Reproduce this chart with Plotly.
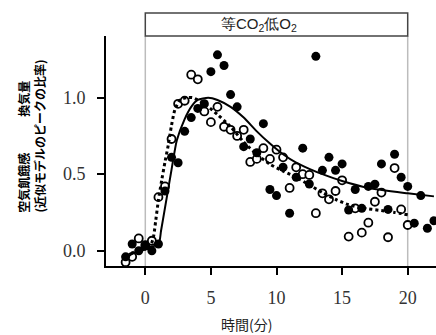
import plotly.graph_objects as go

# --- data ---
t_filled = [-1.5, -1.0, -0.5, 0.0, 0.5, 1.0, 1.5, 2.0, 2.5, 3.0, 3.5, 4.0, 4.5, 5.0, 5.5, 6.0,
            6.5, 7.0, 7.5, 8.0, 8.5, 9.0, 9.5, 10.0, 10.5, 11.0, 11.5, 12.0, 12.5, 13.0, 13.5,
            14.0, 14.5, 15.0, 15.5, 16.0, 16.5, 17.0, 17.5, 18.0, 18.5, 19.0, 19.5, 20.0, 20.5,
            21.0, 21.5, 22.0]
v_filled = [-0.04, 0.044, 0.0, 0.03, 0.0, 0.044, 0.39, 0.61, 0.575, 0.78, 0.87, 0.93, 0.96, 1.17,
            1.28, 1.21, 1.02, 0.94, 0.68, 0.73, 0.64, 0.83, 0.40, 0.36, 0.545, 0.245, 0.48, 0.67,
            0.436, 1.27, 0.525, 0.61, 0.525, 0.567, 0.266, 0.40, 0.277, 0.42, 0.435, 0.567, 0.27,
            0.63, 0.48, 0.42, 0.18, 0.36, 0.147, 0.196]

t_open = [-1.5, -1.0, -0.5, 0.0, 0.5, 1.0, 1.5, 2.0, 2.5, 3.0, 3.5, 4.0, 4.5, 5.0, 5.5, 6.0,
          6.5, 7.0, 7.5, 8.0, 8.5, 9.0, 9.5, 10.0, 10.5, 11.0, 11.5, 12.0, 12.5, 13.0, 13.5,
          14.0, 14.5, 15.0, 15.5, 16.0, 16.5, 17.0, 17.5, 18.0, 18.5, 19.0, 19.5, 20.0]
v_open = [-0.075, -0.04, 0.08, 0.037, 0.065, 0.35, 0.42, 0.73, 0.96, 0.98, 1.15, 1.12, 0.91, 0.84,
          0.94, 0.81, 0.79, 0.75, 0.79, 0.58, 0.60, 0.67, 0.60, 0.66, 0.61, 0.41, 0.545, 0.50,
          0.495, 0.245, 0.375, 0.336, 0.39, 0.46, 0.092, 0.277, 0.118, 0.183, 0.32, 0.38, 0.088,
          0.54, 0.27, 0.168]

fit_t_solid = [-1.5, -1.0, 0.0, 1.0, 1.2, 1.5, 2.0, 2.4, 3.0, 3.5, 4.0, 4.8, 5.5, 6.5, 7.5, 8.5,
               9.5, 10.5, 11.5, 12.5, 13.5, 15.0, 17.0, 20.0, 22.0]
fit_v_solid = [-0.05, -0.02, 0.02, 0.04, 0.13, 0.28, 0.53, 0.72, 0.86, 0.94, 0.985, 1.0, 0.985,
               0.94, 0.87, 0.78, 0.70, 0.63, 0.575, 0.535, 0.50, 0.455, 0.41, 0.375, 0.355]

fit_t_dot = [-1.5, -0.5, 0.3, 0.6, 0.8, 1.0, 1.25, 1.5, 1.75, 2.0, 2.25, 2.65, 3.2, 3.6, 4.5, 5.5,
             6.5, 7.5, 8.5, 9.5, 10.5, 11.5, 12.5, 13.5, 14.5, 15.5, 16.5, 18.0, 19.0, 20.0]
fit_v_dot = [-0.03, 0.0, 0.02, 0.08, 0.2, 0.33, 0.46, 0.58, 0.69, 0.82, 0.92, 0.985, 1.0, 1.0,
             0.96, 0.89, 0.81, 0.71, 0.63, 0.565, 0.52, 0.48, 0.43, 0.38, 0.335, 0.30, 0.28,
             0.262, 0.25, 0.235]

x_ticks = [0, 5, 10, 15, 20]
y_ticks = [0.0, 0.5, 1.0]
y_ticktext = ["0.0", "0.5", "1.0"]

header_text = "等CO<sub>2</sub>低O<sub>2</sub>"
x_title = "時間(分)"
y_title_1 = "空気飢餓感　　　換気量"
y_title_2 = "(近似モデルのピークの比率)"

fig = go.Figure()

fig.add_trace(go.Scatter(x=t_open, y=v_open, mode="markers",
                         marker=dict(size=8, color="white", line=dict(color="black", width=1.8)),
                         showlegend=False))
fig.add_trace(go.Scatter(x=t_filled, y=v_filled, mode="markers",
                         marker=dict(size=9, color="black"), showlegend=False))
fig.add_trace(go.Scatter(x=fit_t_solid, y=fit_v_solid, mode="lines",
                         line=dict(color="black", width=2, shape="spline", smoothing=0.6),
                         showlegend=False))
fig.add_trace(go.Scatter(x=fit_t_dot, y=fit_v_dot, mode="lines",
                         line=dict(color="black", width=3, dash="3px,3px", shape="spline", smoothing=0.6),
                         showlegend=False))

serif = "Liberation Serif, Times New Roman, serif"
cjk = "Noto Sans CJK JP, sans-serif"

fig.update_layout(
    width=436, height=335,
    margin=dict(l=106, r=0, t=36, b=69),
    plot_bgcolor="white", paper_bgcolor="white",
    xaxis=dict(range=[-2.995, 22.157], showline=True, linecolor="black", linewidth=2,
               ticks="outside", ticklen=7, tickwidth=2, tickcolor="black",
               tickvals=x_ticks, tickfont=dict(family=serif, size=18, color="#333"),
               showgrid=False, zeroline=False, ticklabelstandoff=7),
    yaxis=dict(range=[-0.1, 1.403], showline=True, linecolor="black", linewidth=2,
               ticks="outside", ticklen=7, tickwidth=2, tickcolor="black",
               tickvals=y_ticks, ticktext=y_ticktext,
               tickfont=dict(family=serif, size=18, color="#333"),
               showgrid=False, zeroline=False, ticklabelstandoff=8),
    shapes=[
        dict(type="line", xref="x", yref="paper", x0=0, x1=0, y0=0, y1=1,
             line=dict(color="#bcbcbc", width=1.5), layer="below"),
        dict(type="line", xref="x", yref="paper", x0=20, x1=20, y0=0, y1=1,
             line=dict(color="#bcbcbc", width=1.5), layer="below"),
        dict(type="rect", xref="x", yref="paper", x0=0, x1=20, y0=1.0, y1=1.1,
             line=dict(color="#444", width=1.5), fillcolor="white"),
    ],
    annotations=[
        dict(text=header_text, xref="paper", yref="paper", x=0.4636, y=1.05,
             showarrow=False, font=dict(family="Liberation Sans, Arial, sans-serif", size=15, color="#222"),
             xanchor="center", yanchor="middle"),
        dict(text=x_title, xref="paper", yref="paper", x=0.427, y=-0.252,
             showarrow=False, font=dict(family=cjk, size=14, color="#222"),
             xanchor="center", yanchor="middle"),
        dict(text="<b>" + y_title_1 + "</b>", xref="paper", yref="paper", x=-0.252, y=0.2217,
             showarrow=False, textangle=-90, font=dict(family=cjk, size=12, color="black"),
             xanchor="center", yanchor="bottom"),
        dict(text="<b>" + y_title_2 + "</b>", xref="paper", yref="paper", x=-0.203, y=0.2217,
             showarrow=False, textangle=-90, font=dict(family=cjk, size=12, color="black"),
             xanchor="center", yanchor="bottom"),
    ],
)

fig.write_html("out.html")
